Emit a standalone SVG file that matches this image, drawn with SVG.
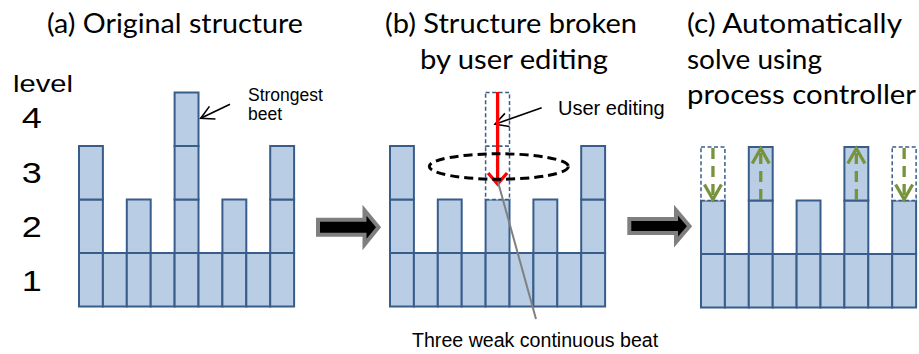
<svg xmlns="http://www.w3.org/2000/svg" width="919" height="354" viewBox="0 0 919 354">
<defs>
<style>
.bar{fill:#b9cde5;stroke:#385d8a;stroke-width:2}
.ghost{fill:#ffffff;stroke:#385d8a;stroke-width:1.5;stroke-dasharray:4 2.5}
.title{font-family:Lato,"Open Sans",sans-serif;font-size:27px;fill:#000}
.lab{font-family:"Liberation Sans",Arial,sans-serif;fill:#000}
.big{fill:#000;stroke:#7f7f7f;stroke-width:4;stroke-linejoin:miter}
.green{fill:none;stroke:#77933c;stroke-width:3.3;stroke-dasharray:11 7}
</style>
<marker id="mBlack" markerUnits="userSpaceOnUse" orient="auto" overflow="visible" markerWidth="1" markerHeight="1" refX="0" refY="0">
<path d="M-13,-7 L0,0 L-13,7" fill="none" stroke="#000" stroke-width="1.6"/>
</marker>
<marker id="mRed" markerUnits="userSpaceOnUse" orient="auto" overflow="visible" markerWidth="1" markerHeight="1" refX="0" refY="0">
<path d="M-11,-9.5 L0,0 L-11,9.5" fill="none" stroke="#ff0000" stroke-width="3.3"/>
</marker>
<marker id="mGreen" markerUnits="userSpaceOnUse" orient="auto" overflow="visible" markerWidth="1" markerHeight="1" refX="0" refY="0">
<path d="M-15,-8.5 L0,0 L-15,8.5" fill="none" stroke="#77933c" stroke-width="3.3" stroke-dasharray="none"/>
</marker>
</defs>
<rect width="919" height="354" fill="#fff"/>

<g id="titles">
<text class="title" x="47" y="33" textLength="256" lengthAdjust="spacingAndGlyphs">(a) Original structure</text>
<text class="title" x="385" y="33" textLength="252" lengthAdjust="spacingAndGlyphs">(b) Structure broken</text>
<text class="title" x="420" y="68.5" textLength="188" lengthAdjust="spacingAndGlyphs">by user editing</text>
<text class="title" x="687" y="33" textLength="215" lengthAdjust="spacingAndGlyphs">(c) Automatically</text>
<text class="title" x="687" y="68.5" textLength="135" lengthAdjust="spacingAndGlyphs">solve using</text>
<text class="title" x="687" y="104" textLength="229" lengthAdjust="spacingAndGlyphs">process controller</text>
</g>

<g id="levels">
<text class="lab" x="13" y="92.3" font-size="24" textLength="60" lengthAdjust="spacingAndGlyphs">level</text>
<text class="lab" font-size="30" text-anchor="middle" transform="translate(31.7,128.3) scale(1.2,1)">4</text>
<text class="lab" font-size="30" text-anchor="middle" transform="translate(31.7,183.3) scale(1.2,1)">3</text>
<text class="lab" font-size="30" text-anchor="middle" transform="translate(31.7,236.7) scale(1.2,1)">2</text>
<text class="lab" font-size="30" text-anchor="middle" transform="translate(31.7,290.5) scale(1.2,1)">1</text>
</g>

<g id="panel-a">
<rect class="bar" x="79" y="253" width="23.9" height="53.5"/>
<rect class="bar" x="102.9" y="253" width="23.9" height="53.5"/>
<rect class="bar" x="126.8" y="253" width="23.9" height="53.5"/>
<rect class="bar" x="150.7" y="253" width="23.9" height="53.5"/>
<rect class="bar" x="174.6" y="253" width="23.9" height="53.5"/>
<rect class="bar" x="198.5" y="253" width="23.9" height="53.5"/>
<rect class="bar" x="222.4" y="253" width="23.9" height="53.5"/>
<rect class="bar" x="246.3" y="253" width="23.9" height="53.5"/>
<rect class="bar" x="270.2" y="253" width="23.9" height="53.5"/>
<rect class="bar" x="79" y="199.5" width="23.9" height="53.5"/>
<rect class="bar" x="126.8" y="199.5" width="23.9" height="53.5"/>
<rect class="bar" x="174.6" y="199.5" width="23.9" height="53.5"/>
<rect class="bar" x="222.4" y="199.5" width="23.9" height="53.5"/>
<rect class="bar" x="270.2" y="199.5" width="23.9" height="53.5"/>
<rect class="bar" x="79" y="146" width="23.9" height="53.5"/>
<rect class="bar" x="174.6" y="146" width="23.9" height="53.5"/>
<rect class="bar" x="270.2" y="146" width="23.9" height="53.5"/>
<rect class="bar" x="174.6" y="92.5" width="23.9" height="53.5"/>
</g>

<g id="label-strongest">
<text class="lab" font-size="17.5" x="248" y="100.5">Strongest</text>
<text class="lab" font-size="17.5" x="248" y="120">beet</text>
</g>

<g id="panel-b">
<rect class="bar" x="390" y="253" width="23.9" height="53.5"/>
<rect class="bar" x="413.9" y="253" width="23.9" height="53.5"/>
<rect class="bar" x="437.8" y="253" width="23.9" height="53.5"/>
<rect class="bar" x="461.7" y="253" width="23.9" height="53.5"/>
<rect class="bar" x="485.6" y="253" width="23.9" height="53.5"/>
<rect class="bar" x="509.5" y="253" width="23.9" height="53.5"/>
<rect class="bar" x="533.4" y="253" width="23.9" height="53.5"/>
<rect class="bar" x="557.3" y="253" width="23.9" height="53.5"/>
<rect class="bar" x="581.2" y="253" width="23.9" height="53.5"/>
<rect class="bar" x="390" y="199.5" width="23.9" height="53.5"/>
<rect class="bar" x="437.8" y="199.5" width="23.9" height="53.5"/>
<rect class="bar" x="485.6" y="199.5" width="23.9" height="53.5"/>
<rect class="bar" x="533.4" y="199.5" width="23.9" height="53.5"/>
<rect class="bar" x="581.2" y="199.5" width="23.9" height="53.5"/>
<rect class="bar" x="390" y="146" width="23.9" height="53.5"/>
<rect class="bar" x="581.2" y="146" width="23.9" height="53.5"/>
<rect class="ghost" x="485.6" y="146" width="23.9" height="53.5"/>
<rect class="ghost" x="485.6" y="92.5" width="23.9" height="53.5"/>
</g>

<g id="label-user-editing">
<text class="lab" font-size="20" x="558" y="115">User editing</text>
</g>

<g id="label-three-weak">
<text class="lab" font-size="19.6" x="412" y="346.7">Three weak continuous beat</text>
</g>

<g id="panel-c">
<rect class="bar" x="701" y="254" width="23.9" height="53.5"/>
<rect class="bar" x="724.9" y="254" width="23.9" height="53.5"/>
<rect class="bar" x="748.8" y="254" width="23.9" height="53.5"/>
<rect class="bar" x="772.7" y="254" width="23.9" height="53.5"/>
<rect class="bar" x="796.6" y="254" width="23.9" height="53.5"/>
<rect class="bar" x="820.5" y="254" width="23.9" height="53.5"/>
<rect class="bar" x="844.4" y="254" width="23.9" height="53.5"/>
<rect class="bar" x="868.3" y="254" width="23.9" height="53.5"/>
<rect class="bar" x="892.2" y="254" width="23.9" height="53.5"/>
<rect class="bar" x="701" y="200.5" width="23.9" height="53.5"/>
<rect class="bar" x="748.8" y="200.5" width="23.9" height="53.5"/>
<rect class="bar" x="796.6" y="200.5" width="23.9" height="53.5"/>
<rect class="bar" x="844.4" y="200.5" width="23.9" height="53.5"/>
<rect class="bar" x="892.2" y="200.5" width="23.9" height="53.5"/>
<rect class="bar" x="748.8" y="147" width="23.9" height="53.5"/>
<rect class="bar" x="844.4" y="147" width="23.9" height="53.5"/>
<rect class="ghost" x="701" y="147" width="23.9" height="53.5"/>
<rect class="ghost" x="892.2" y="147" width="23.9" height="53.5"/>
</g>

<g id="connectors">
<path class="big" d="M318,219.7 H364.5 V210.3 L378.5,227.3 L364.5,244.6 V234.7 H318 Z"/>
<path class="big" d="M629.3,219 H676 V210.3 L689.5,226.3 L676,242 V233 H629.3 Z"/>
<line x1="230" y1="104.3" x2="200.7" y2="118.3" stroke="#000" stroke-width="1.6" marker-end="url(#mBlack)"/>
<line x1="541.7" y1="107.7" x2="495" y2="124.3" stroke="#000" stroke-width="1.6" marker-end="url(#mBlack)"/>
<line x1="497.6" y1="92" x2="497.6" y2="184" stroke="#ff0000" stroke-width="3.3" marker-end="url(#mRed)"/>
<ellipse cx="498.8" cy="166.5" rx="69.5" ry="12.7" fill="none" stroke="#000" stroke-width="3" stroke-dasharray="9 5"/>
<line x1="498" y1="182" x2="536" y2="319" stroke="#808080" stroke-width="2"/>
<line class="green" x1="712.95" y1="148" x2="712.95" y2="199.5" marker-end="url(#mGreen)"/>
<line class="green" x1="760.75" y1="200" x2="760.75" y2="148.5" marker-end="url(#mGreen)"/>
<line class="green" x1="856.35" y1="200" x2="856.35" y2="148.5" marker-end="url(#mGreen)"/>
<line class="green" x1="904.15" y1="148" x2="904.15" y2="199.5" marker-end="url(#mGreen)"/>
</g>
</svg>
